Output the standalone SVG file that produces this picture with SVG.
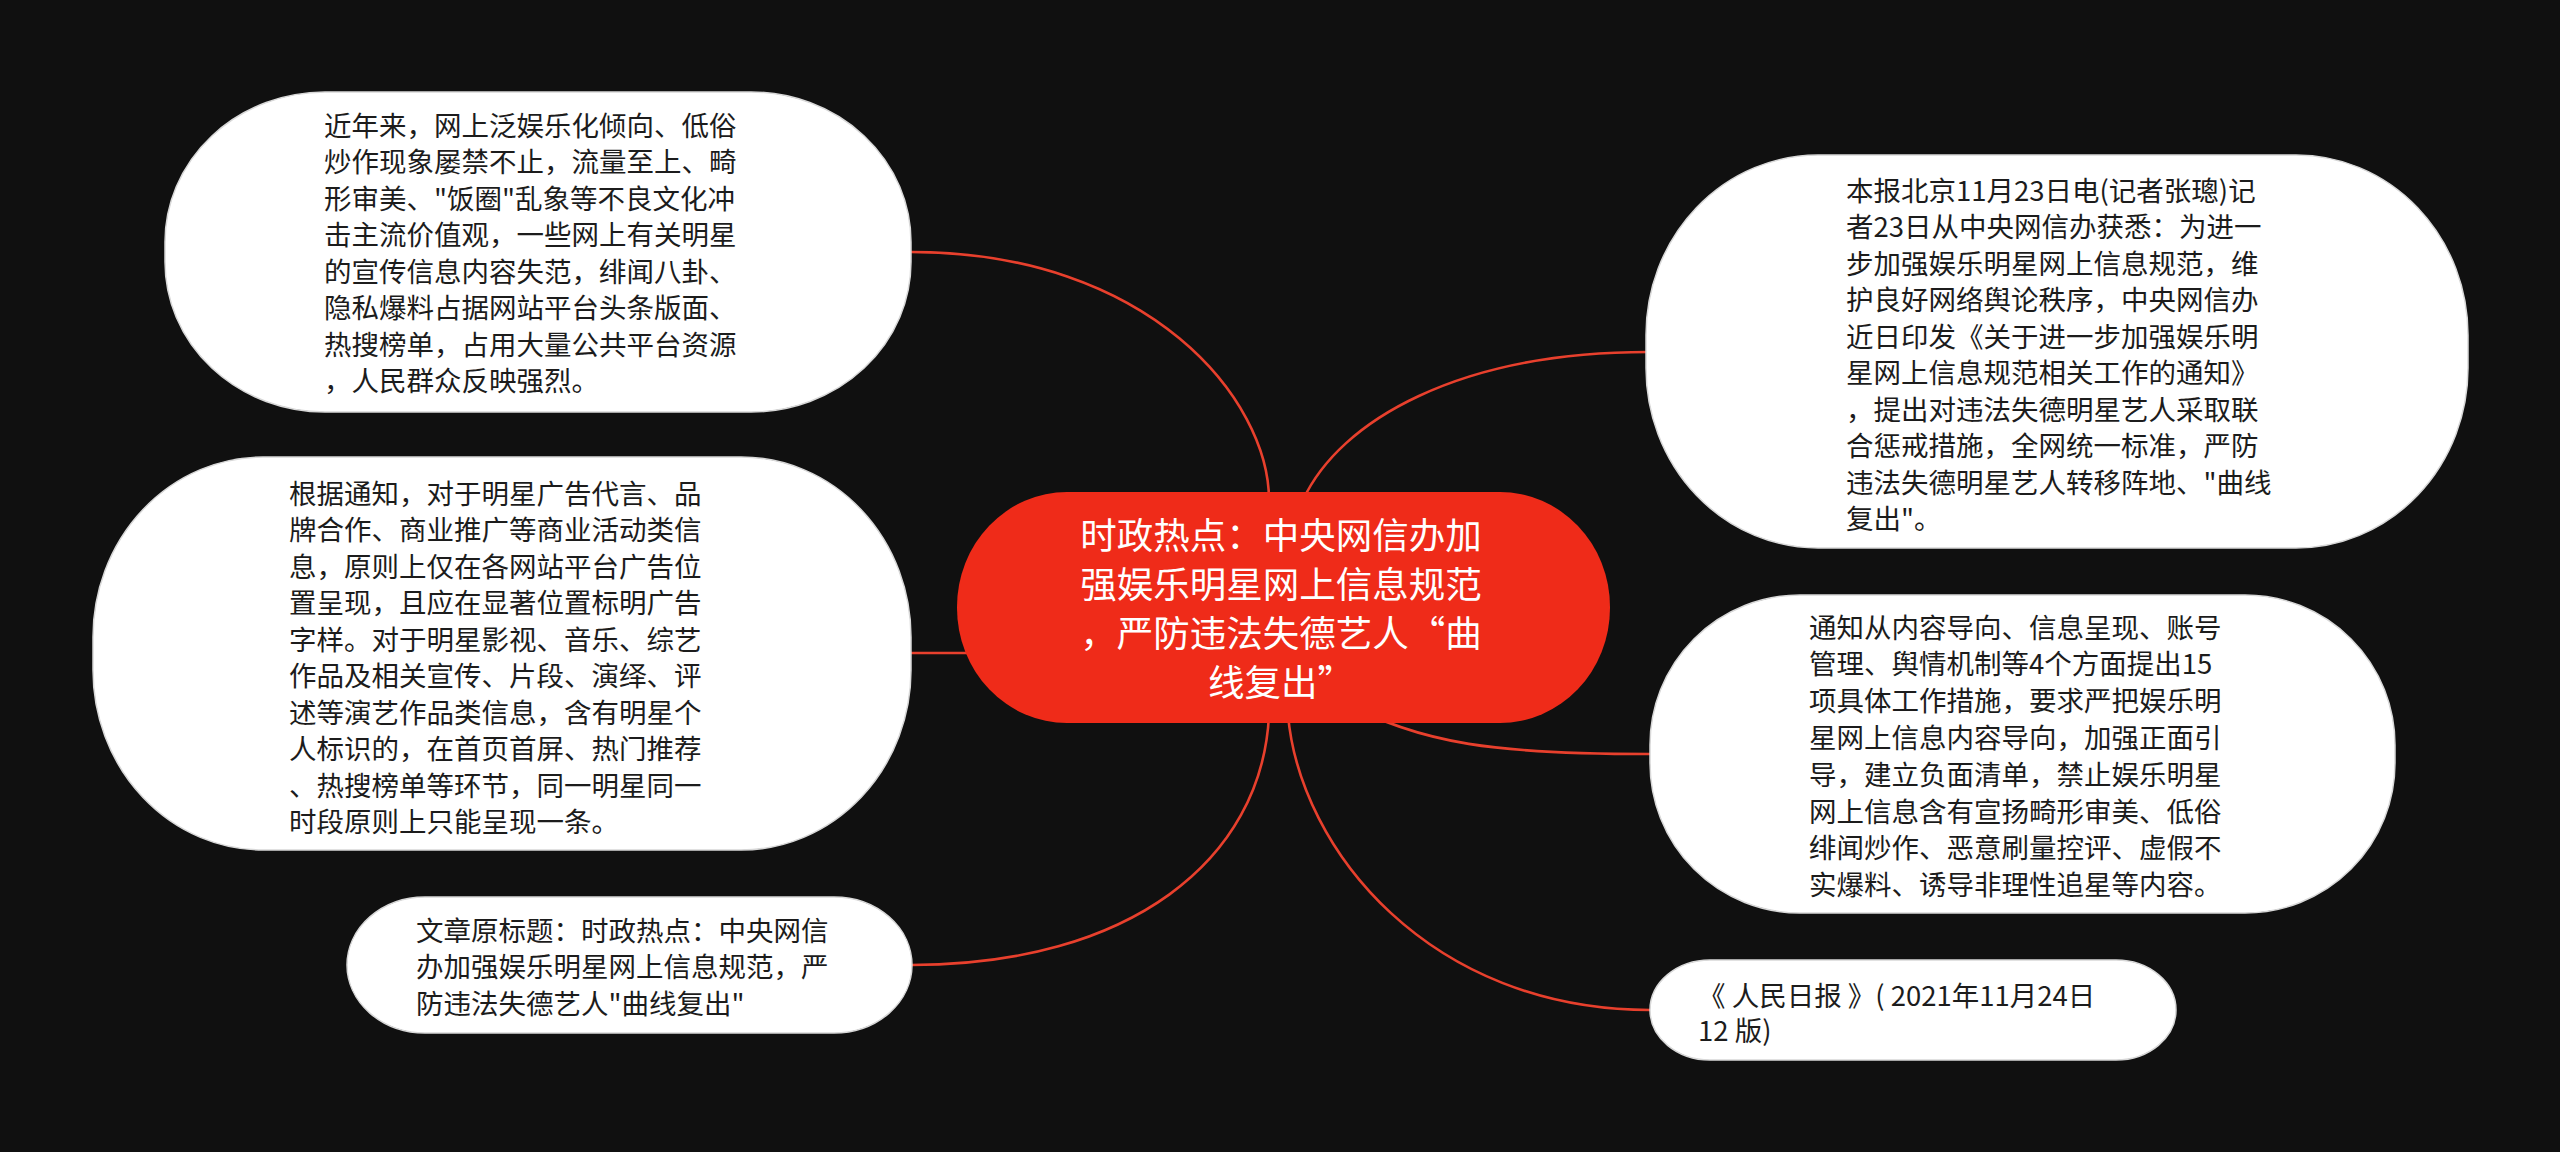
<svg xmlns="http://www.w3.org/2000/svg" width="2560" height="1152" viewBox="0 0 2560 1152">
<style>
.bg{fill:#101010}
.node{fill:#ffffff;stroke:#d8d8d8;stroke-width:1.5}
.root{fill:#ef2b19}
.t{font-family:"Noto Sans CJK SC","Noto Sans",sans-serif;font-size:27.5px;fill:#1c1c1c}
.rt{font-family:"Noto Sans CJK SC","Noto Sans",sans-serif;font-size:36.5px;fill:#ffffff;text-anchor:middle}
.edge{fill:none;stroke:#e8402d;stroke-width:2.6}
</style>
<rect class="bg" x="0" y="0" width="2560" height="1152"/>
<g id="connectors">
<path class="edge" d="M911,252 C1150,252 1269,400 1269,500"/>
<path class="edge" d="M911,653 L1000,653"/>
<path class="edge" d="M1269,715 C1262,860 1130,965 911,965"/>
<path class="edge" d="M1303,500 C1340,420 1460,352 1648,352"/>
<path class="edge" d="M1340,700 C1420,745 1500,754 1650,754"/>
<path class="edge" d="M1288,715 C1300,850 1430,1010 1650,1010"/>
</g>
<g id="node-root">
<rect class="root" x="957" y="492" width="653" height="231" rx="110" ry="115"/>
<text class="rt"><tspan x="1281" y="549">时政热点：中央网信办加</tspan><tspan x="1281" y="598">强娱乐明星网上信息规范</tspan><tspan x="1281" y="647">，严防违法失德艺人“曲</tspan><tspan x="1281" y="696">线复出”</tspan></text>
</g>
<g id="node-1">
<rect class="node" x="165" y="92" width="746" height="320" rx="160" ry="150"/>
<text class="t"><tspan x="324" y="135.5">近年来，网上泛娱乐化倾向、低俗</tspan><tspan x="324" y="172">炒作现象屡禁不止，流量至上、畸</tspan><tspan x="324" y="208.5">形审美、"饭圈"乱象等不良文化冲</tspan><tspan x="324" y="245">击主流价值观，一些网上有关明星</tspan><tspan x="324" y="281.5">的宣传信息内容失范，绯闻八卦、</tspan><tspan x="324" y="318">隐私爆料占据网站平台头条版面、</tspan><tspan x="324" y="354.5">热搜榜单，占用大量公共平台资源</tspan><tspan x="324" y="391">，人民群众反映强烈。</tspan></text>
</g>
<g id="node-2">
<rect class="node" x="93" y="457" width="818" height="393" rx="170" ry="180"/>
<text class="t"><tspan x="289" y="503.5">根据通知，对于明星广告代言、品</tspan><tspan x="289" y="540">牌合作、商业推广等商业活动类信</tspan><tspan x="289" y="576.5">息，原则上仅在各网站平台广告位</tspan><tspan x="289" y="613">置呈现，且应在显著位置标明广告</tspan><tspan x="289" y="649.5">字样。对于明星影视、音乐、综艺</tspan><tspan x="289" y="686">作品及相关宣传、片段、演绎、评</tspan><tspan x="289" y="722.5">述等演艺作品类信息，含有明星个</tspan><tspan x="289" y="759">人标识的，在首页首屏、热门推荐</tspan><tspan x="289" y="795.5">、热搜榜单等环节，同一明星同一</tspan><tspan x="289" y="832">时段原则上只能呈现一条。</tspan></text>
</g>
<g id="node-3">
<rect class="node" x="347" y="897" width="565" height="136" rx="78" ry="68"/>
<text class="t"><tspan x="416" y="940.5">文章原标题：时政热点：中央网信</tspan><tspan x="416" y="977">办加强娱乐明星网上信息规范，严</tspan><tspan x="416" y="1013.5">防违法失德艺人"曲线复出"</tspan></text>
</g>
<g id="node-4">
<rect class="node" x="1646" y="155" width="822" height="393" rx="172" ry="180"/>
<text class="t"><tspan x="1846" y="200.5">本报北京11月23日电(记者张璁)记</tspan><tspan x="1846" y="237">者23日从中央网信办获悉：为进一</tspan><tspan x="1846" y="273.5">步加强娱乐明星网上信息规范，维</tspan><tspan x="1846" y="310">护良好网络舆论秩序，中央网信办</tspan><tspan x="1846" y="346.5">近日印发《关于进一步加强娱乐明</tspan><tspan x="1846" y="383">星网上信息规范相关工作的通知》</tspan><tspan x="1846" y="419.5">，提出对违法失德明星艺人采取联</tspan><tspan x="1846" y="456">合惩戒措施，全网统一标准，严防</tspan><tspan x="1846" y="492.5">违法失德明星艺人转移阵地、"曲线</tspan><tspan x="1846" y="529">复出"。</tspan></text>
</g>
<g id="node-5">
<rect class="node" x="1650" y="595" width="745" height="318" rx="150" ry="150"/>
<text class="t"><tspan x="1809" y="637.5">通知从内容导向、信息呈现、账号</tspan><tspan x="1809" y="674.3">管理、舆情机制等4个方面提出15</tspan><tspan x="1809" y="711.1">项具体工作措施，要求严把娱乐明</tspan><tspan x="1809" y="747.9">星网上信息内容导向，加强正面引</tspan><tspan x="1809" y="784.7">导，建立负面清单，禁止娱乐明星</tspan><tspan x="1809" y="821.5">网上信息含有宣扬畸形审美、低俗</tspan><tspan x="1809" y="858.3">绯闻炒作、恶意刷量控评、虚假不</tspan><tspan x="1809" y="895.1">实爆料、诱导非理性追星等内容。</tspan></text>
</g>
<g id="node-6">
<rect class="node" x="1650" y="960" width="526" height="100" rx="60" ry="50"/>
<text class="t"><tspan x="1698" y="1005.5">《 人民日报 》( 2021年11月24日</tspan><tspan x="1698" y="1041">12 版)</tspan></text>
</g>
</svg>
